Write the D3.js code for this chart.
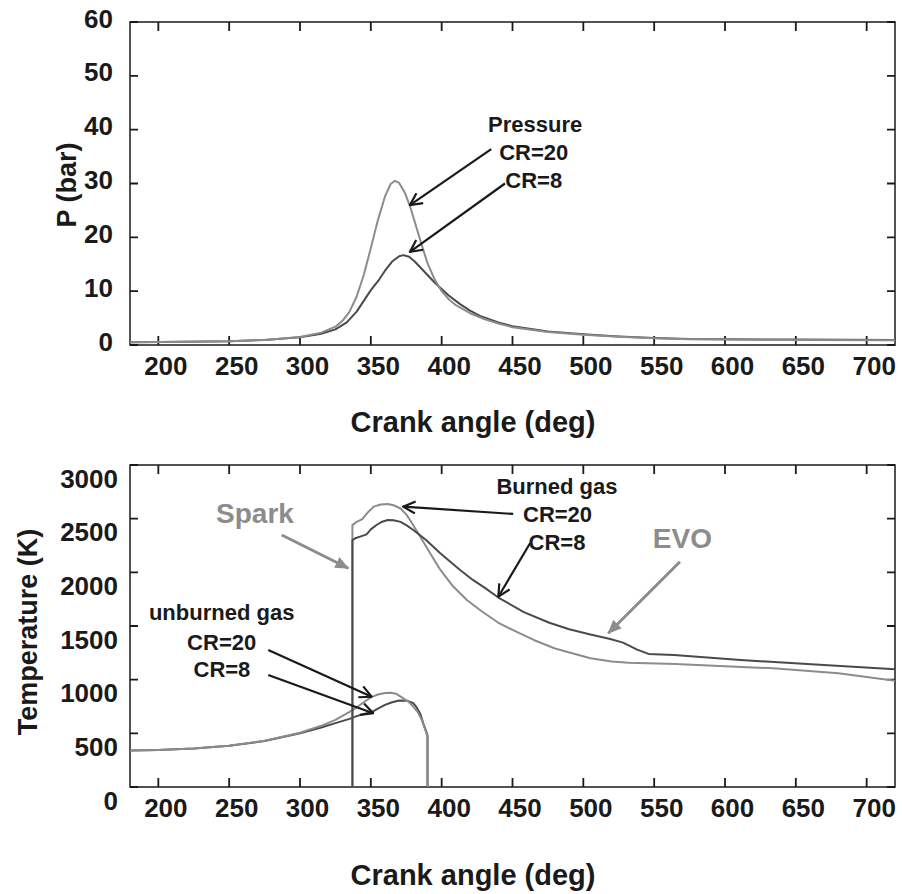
<!DOCTYPE html>
<html lang="en">
<head>
<meta charset="utf-8" />
<title>Cylinder pressure and temperature vs crank angle</title>
<script src="https://cdn.jsdelivr.net/npm/d3@7"></script>
<style>
  body { margin: 0; background: #fff; }
  svg { display: block; }
</style>
</head>
<body>
<svg id="chart" width="902" height="894"></svg>
<script>
// tick values
const xTicks = [200, 250, 300, 350, 400, 450, 500, 550, 600, 650, 700];
const pTicks = [0, 10, 20, 30, 40, 50, 60];
const tTicks = [0, 500, 1000, 1500, 2000, 2500, 3000];

// pressure (bar) vs crank angle (deg)
const pressureCR20 = [[180,0.5],[200,0.55],[225,0.6],[250,0.7],[275,0.95],[300,1.5],[315,2.3],[325,3.4],[330,4.5],[335,6.2],[340,9],[345,13],[350,18],[355,23.2],[360,27.6],[364,29.9],[367,30.5],[370,30.1],[374,28.3],[378,25.5],[382,22],[386,18.5],[390,15.2],[395,12.2],[400,10],[405,8.5],[410,7.4],[420,5.9],[430,4.8],[440,4],[450,3.3],[475,2.4],[500,1.9],[525,1.55],[550,1.25],[575,1.05],[600,1.0],[650,0.95],[720,0.9]];
const pressureCR8 = [[180,0.5],[200,0.55],[250,0.7],[275,0.95],[300,1.45],[315,2.1],[325,2.9],[333,4.2],[340,6.2],[345,8.2],[350,10.2],[356,12.2],[360,13.8],[365,15.5],[370,16.5],[373,16.7],[377,16.4],[381,15.5],[385,14.4],[390,13],[395,11.6],[400,10.4],[405,9.2],[413,7.6],[420,6.4],[427,5.4],[440,4.2],[450,3.5],[475,2.5],[500,2.0],[525,1.6],[550,1.3],[575,1.1],[600,1.05],[650,1.0],[720,0.95]];

// temperature (K) vs crank angle (deg)
const unburnedCR20 = [[180,340],[200,345],[225,358],[250,385],[275,430],[300,505],[315,570],[325,625],[335,700],[340,740],[345,790],[350,835],[355,862],[360,876],[364,878],[368,868],[373,826],[377,790],[380,748],[383,700],[386,624],[389,510],[390,470],[390,0]];
const unburnedCR8 = [[180,340],[200,345],[225,358],[250,385],[275,428],[300,500],[315,555],[325,595],[335,635],[340,660],[345,680],[351,700],[355,730],[360,765],[365,790],[370,805],[376,803],[380,780],[382,748],[385,680],[387,593],[389,520],[390,480],[390,0]];
const burnedCR20 = [[337,0],[337,2440],[340,2470],[344,2495],[348,2560],[352,2612],[357,2632],[362,2637],[366,2625],[371,2595],[375,2540],[378,2480],[385,2330],[392,2175],[399,2025],[408,1870],[418,1740],[428,1640],[440,1530],[453,1445],[465,1370],[480,1290],[505,1200],[520,1170],[532,1158],[545,1152],[565,1146],[600,1125],[634,1106],[680,1060],[720,990]];
const burnedCR8 = [[337,0],[337,2300],[339,2317],[343,2335],[347,2354],[350,2400],[354,2441],[358,2472],[362,2488],[366,2485],[371,2470],[375,2440],[380,2394],[389,2301],[399,2177],[413,2022],[422,1929],[430,1860],[440,1765],[458,1630],[476,1530],[490,1470],[505,1420],[519,1379],[528,1345],[538,1280],[546,1240],[564,1230],[611,1183],[658,1146],[720,1097]];

// annotations, anchored in data units
const pressureLabels = [
  { text: "Pressure", at: [466, 39.6] },
  { text: "CR=20", at: [465, 34.4] },
  { text: "CR=8", at: [465, 29.2] }
];
const pressureArrows = [
  { from: [435, 36.4], to: [377.6, 26.0] },
  { from: [444.7, 30.0], to: [377.6, 17.3] }
];
const tempLabels = [
  { text: "unburned gas", at: [244.7, 1556] },
  { text: "CR=20", at: [244.7, 1276] },
  { text: "CR=8", at: [244.9, 1022] },
  { text: "Burned gas", at: [481.4, 2727] },
  { text: "CR=20", at: [481.8, 2472] },
  { text: "CR=8", at: [481.4, 2208] }
];
const tempArrows = [
  { from: [277.6, 1276], to: [350.6, 841] },
  { from: [277.6, 1044], to: [351.7, 687] },
  { from: [450.5, 2544], to: [372.9, 2612] },
  { from: [462.4, 2271], to: [440, 1773] }
];
const eventLabels = [
  { text: "Spark", at: [268.2, 2460] },
  { text: "EVO", at: [569.9, 2224] }
];
const eventArrows = [
  { from: [287.1, 2348], to: [334.1, 2038] },
  { from: [568.2, 2099], to: [517.6, 1432] }
];

const light = "#8c8c8c", dark = "#4a4a4a", ink = "#1a1a1a";

const svg = d3.select("#chart")
  .attr("font-family", "Arial, 'Liberation Sans', sans-serif")
  .attr("font-weight", "bold");

const x = d3.scaleLinear().domain([180, 720]).range([130, 895]);
const yP = d3.scaleLinear().domain([0, 60]).range([345, 22]);
const yT = d3.scaleLinear().domain([0, 3000]).range([787, 465]);

// arrow heads
const defs = svg.append("defs");
defs.append("marker")
    .attr("id", "open-head")
    .attr("viewBox", "0 0 14 14")
    .attr("refX", 13).attr("refY", 7)
    .attr("markerWidth", 14).attr("markerHeight", 14)
    .attr("markerUnits", "userSpaceOnUse")
    .attr("orient", "auto")
  .append("path")
    .attr("d", "M1,1 L13,7 L1,13")
    .attr("fill", "none")
    .attr("stroke", ink)
    .attr("stroke-width", 2.2);
defs.append("marker")
    .attr("id", "gray-head")
    .attr("viewBox", "0 0 14 12")
    .attr("refX", 13).attr("refY", 6)
    .attr("markerWidth", 14).attr("markerHeight", 12)
    .attr("markerUnits", "userSpaceOnUse")
    .attr("orient", "auto")
  .append("path")
    .attr("d", "M0,0 L14,6 L0,12 Z")
    .attr("fill", light);

function panel(y, ticks, labelGap, labelShift) {
  const [y0, y1] = y.range();
  const [x0, x1] = x.range();
  const g = svg.append("g");

  // x tick labels (bottom only)
  g.append("g")
    .attr("transform", `translate(0,${y0})`)
    .call(d3.axisBottom(x).tickValues(xTicks).tickSize(0))
    .call(s => s.select(".domain").remove())
    .call(s => s.selectAll(".tick text")
      .attr("y", 30).attr("dy", null).attr("dx", 7)
      .attr("fill", ink).attr("font-size", 26)
      .attr("font-family", null).attr("font-weight", null));

  // y tick labels (left only)
  g.append("g")
    .attr("transform", `translate(${x0},0)`)
    .call(d3.axisLeft(y).tickValues(ticks).tickSize(0).tickFormat(d3.format("d")))
    .call(s => s.select(".domain").remove())
    .call(s => s.selectAll(".tick text")
      .attr("x", -labelGap).attr("y", labelShift).attr("dy", "0.35em")
      .attr("fill", ink).attr("font-size", 26)
      .attr("font-family", null).attr("font-weight", null));

  // inward tick marks on all four sides, as one path
  const tickPath = d3.path();
  xTicks.forEach(t => {
    tickPath.moveTo(x(t), y0); tickPath.lineTo(x(t), y0 - 9);
    tickPath.moveTo(x(t), y1); tickPath.lineTo(x(t), y1 + 9);
  });
  ticks.forEach(t => {
    tickPath.moveTo(x0, y(t)); tickPath.lineTo(x0 + 8, y(t));
    tickPath.moveTo(x1, y(t)); tickPath.lineTo(x1 - 8, y(t));
  });
  g.append("path")
    .attr("d", tickPath.toString())
    .attr("fill", "none")
    .attr("stroke", ink)
    .attr("stroke-width", 1.8);

  g.append("rect")
    .attr("x", x0).attr("y", y1)
    .attr("width", x1 - x0)
    .attr("height", y0 - y1)
    .attr("fill", "none")
    .attr("stroke", ink)
    .attr("stroke-width", 1.5);
  return g;
}

function curve(y, data, color) {
  const line = d3.line().x(d => x(d[0])).y(d => y(d[1]));
  svg.append("path")
    .datum(data)
    .attr("d", line)
    .attr("fill", "none")
    .attr("stroke", color)
    .attr("stroke-width", 2)
    .attr("stroke-linejoin", "round");
}

function labels(y, list, color, size) {
  svg.append("g")
    .selectAll("text")
    .data(list)
    .join("text")
      .attr("x", d => x(d.at[0]))
      .attr("y", d => y(d.at[1]))
      .attr("text-anchor", "middle")
      .attr("fill", color)
      .attr("font-size", size)
      .text(d => d.text);
}

function arrows(y, list, color, width, head) {
  svg.append("g")
    .selectAll("line")
    .data(list)
    .join("line")
      .attr("x1", d => x(d.from[0]))
      .attr("y1", d => y(d.from[1]))
      .attr("x2", d => x(d.to[0]))
      .attr("y2", d => y(d.to[1]))
      .attr("stroke", color)
      .attr("stroke-width", width)
      .attr("marker-end", `url(#${head})`);
}

// top panel: pressure
panel(yP, pTicks, 17, -4);
curve(yP, pressureCR8, dark);
curve(yP, pressureCR20, light);
labels(yP, pressureLabels, ink, 22);
arrows(yP, pressureArrows, ink, 2.2, "open-head");

// bottom panel: temperature
panel(yT, tTicks, 12, 13);
curve(yT, unburnedCR8, dark);
curve(yT, unburnedCR20, light);
curve(yT, burnedCR20, light);
curve(yT, burnedCR8, dark);
labels(yT, tempLabels, ink, 22);
arrows(yT, tempArrows, ink, 2.2, "open-head");
labels(yT, eventLabels, light, 28);
arrows(yT, eventArrows, light, 3, "gray-head");

// axis titles
svg.append("text")
  .attr("transform", "translate(67,185) rotate(-90)")
  .attr("text-anchor", "middle").attr("dy", "0.35em")
  .attr("font-size", 27).attr("fill", ink)
  .text("P (bar)");
svg.append("text")
  .attr("transform", "translate(28,632) rotate(-90)")
  .attr("text-anchor", "middle").attr("dy", "0.35em")
  .attr("font-size", 27).attr("fill", ink)
  .text("Temperature (K)");
[432, 885].forEach(base => {
  svg.append("text")
    .attr("x", 473).attr("y", base)
    .attr("text-anchor", "middle")
    .attr("font-size", 29).attr("fill", ink)
    .text("Crank angle (deg)");
});
</script>
</body>
</html>
